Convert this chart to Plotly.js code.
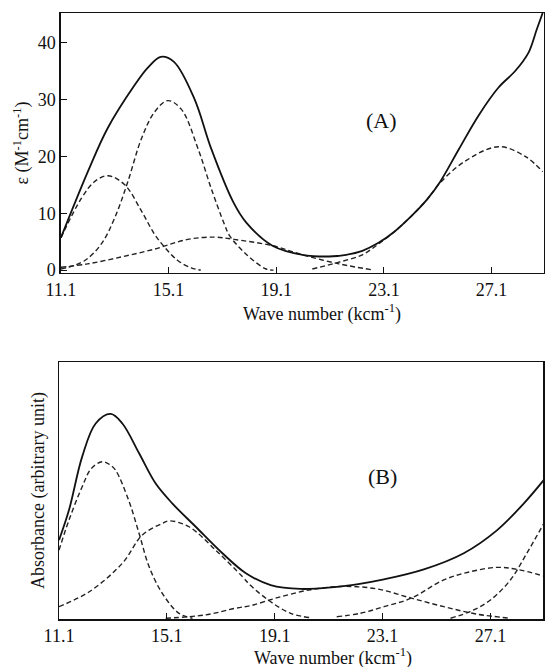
<!DOCTYPE html>
<html>
<head>
<meta charset="utf-8">
<script src="https://cdn.plot.ly/plotly-3.0.1.min.js"></script>
<style>html,body{margin:0;padding:0;background:#fff;}#chart{width:545px;height:667px;}</style>
</head>
<body>
<div id="chart"></div>
<script>
// ---------- Panel (A): molar absorptivity ----------
const xTickVals = [11.1, 15.1, 19.1, 23.1, 27.1];
const xTickText = ["11.1", "15.1", "19.1", "23.1", "27.1"];
const yTickValsA = [0, 10, 20, 30, 40];

const totalA_x = [11.1, 12.1, 12.83, 13.82, 14.33, 14.81, 15.3, 16.06, 16.68, 17.5, 17.98, 18.96, 20.07, 21.06, 21.7, 22.3, 22.9, 23.5, 24.1, 24.7, 25.2, 25.88, 26.62, 27.36, 27.98, 28.47, 28.78, 29.0];
const totalA_y = [5.7, 17.3, 24.9, 32.4, 35.6, 37.5, 36.6, 30.1, 21.4, 12.0, 8.4, 4.3, 2.7, 2.4, 2.7, 3.4, 4.8, 6.8, 9.4, 12.4, 15.6, 21.2, 27.2, 32.1, 35.0, 38.2, 42.3, 45.2];

const bandA1_x = [11.1, 11.87, 12.36, 12.85, 13.47, 14.09, 14.58, 14.96, 15.44, 15.94, 16.3];
const bandA1_y = [5.7, 12.7, 15.6, 16.6, 15.0, 10.4, 6.3, 4.0, 1.7, 0.4, 0.0];

const bandA2_x = [11.1, 11.37, 11.99, 12.6, 13.1, 13.59, 14.09, 14.58, 15.07, 15.57, 16.19, 16.68, 17.17, 17.36, 17.98, 18.72, 19.0];
const bandA2_y = [0.2, 0.5, 1.7, 4.6, 9.2, 15.6, 23.1, 27.8, 29.8, 28.3, 21.4, 14.4, 8.1, 6.1, 2.8, 0.2, 0.0];

const bandA3_x = [11.1, 12.09, 13.33, 14.58, 15.81, 16.8, 17.54, 18.96, 20.07, 21.43, 22.67];
const bandA3_y = [0.5, 1.1, 2.3, 3.7, 5.4, 5.8, 5.4, 4.3, 2.7, 1.1, 0.05];

const bandA4_x = [20.44, 21.43, 22.3, 22.9, 23.5, 24.1, 24.7, 25.2, 26.1, 27.36, 28.35, 29.0];
const bandA4_y = [0.2, 1.4, 2.7, 4.6, 6.8, 9.4, 12.4, 15.4, 19.1, 21.7, 20.0, 17.3];

// ---------- Panel (B): absorbance (arbitrary unit) ----------
const totalB_x = [11.1, 11.47, 11.96, 12.46, 13.02, 13.45, 14.07, 14.68, 15.3, 16.17, 17.16, 18.03, 18.95, 20.06, 21.3, 22.2, 23.15, 24.63, 26.11, 27.35, 28.34, 29.08];
const totalB_y = [0.307, 0.424, 0.632, 0.761, 0.798, 0.761, 0.645, 0.528, 0.45, 0.359, 0.256, 0.178, 0.132, 0.117, 0.124, 0.136, 0.154, 0.193, 0.256, 0.346, 0.45, 0.541];

const bandB1_x = [11.1, 11.47, 11.96, 12.3, 12.7, 12.95, 13.19, 13.68, 14.07, 14.44, 14.93, 15.55, 16.05];
const bandB1_y = [0.268, 0.385, 0.515, 0.586, 0.612, 0.603, 0.58, 0.463, 0.333, 0.204, 0.1, 0.022, 0.003];

const bandB2_x = [11.1, 12.22, 13.45, 14.19, 14.93, 15.18, 15.92, 16.91, 17.9, 18.21, 18.95, 19.69, 20.43];
const bandB2_y = [0.048, 0.106, 0.217, 0.327, 0.372, 0.382, 0.359, 0.268, 0.165, 0.13, 0.067, 0.022, 0.005];

const bandB3_x = [15.06, 16.54, 17.65, 18.21, 19.2, 20.43, 21.66, 22.89, 24.14, 25.37, 26.6, 27.84];
const bandB3_y = [0.003, 0.016, 0.042, 0.052, 0.083, 0.114, 0.127, 0.117, 0.082, 0.048, 0.019, 0.003];

const bandB4_x = [21.4, 22.27, 23.15, 24.14, 25.37, 26.35, 27.35, 28.09, 29.08];
const bandB4_y = [0.009, 0.022, 0.048, 0.08, 0.152, 0.184, 0.201, 0.193, 0.167];

const bandB5_x = [25.62, 26.35, 27.1, 27.84, 28.45, 29.08];
const bandB5_y = [0.003, 0.029, 0.074, 0.152, 0.256, 0.372];

const solidLine = {color: '#111', width: 1.8, shape: 'spline', smoothing: 1};
const dashLine = {color: '#222', width: 1.4, dash: '5px,3px', shape: 'spline', smoothing: 1};

function tr(x, y, line, xa, ya, name) {
  return {x: x, y: y, mode: 'lines', line: line, xaxis: xa, yaxis: ya, name: name, hoverinfo: 'skip', cliponaxis: true};
}

const data = [
  tr(bandA1_x, bandA1_y, dashLine, 'x', 'y', 'band 1'),
  tr(bandA2_x, bandA2_y, dashLine, 'x', 'y', 'band 2'),
  tr(bandA3_x, bandA3_y, dashLine, 'x', 'y', 'band 3'),
  tr(bandA4_x, bandA4_y, dashLine, 'x', 'y', 'band 4'),
  tr(totalA_x, totalA_y, solidLine, 'x', 'y', 'spectrum A'),
  tr(bandB1_x, bandB1_y, dashLine, 'x2', 'y2', 'band 1'),
  tr(bandB2_x, bandB2_y, dashLine, 'x2', 'y2', 'band 2'),
  tr(bandB3_x, bandB3_y, dashLine, 'x2', 'y2', 'band 3'),
  tr(bandB4_x, bandB4_y, dashLine, 'x2', 'y2', 'band 4'),
  tr(bandB5_x, bandB5_y, dashLine, 'x2', 'y2', 'band 5'),
  tr(totalB_x, totalB_y, solidLine, 'x2', 'y2', 'spectrum B')
];

const FONT = 'Liberation Serif, Times New Roman, serif';
const TXT = {family: FONT, size: 18, color: '#111'};

const xCommon = {
  range: [11.1, 29.05], tickmode: 'array', tickvals: xTickVals, ticktext: xTickText,
  ticks: 'inside', ticklen: 6, tickwidth: 1.2, tickcolor: '#111',
  showline: true, linecolor: '#111', linewidth: 1.5, mirror: true,
  showgrid: false, zeroline: false, automargin: false,
  tickfont: TXT
};

const layout = {
  width: 545, height: 667,
  margin: {l: 59, r: 1, t: 13, b: 48},
  paper_bgcolor: '#fff', plot_bgcolor: '#fff',
  showlegend: false,
  font: {family: FONT, color: '#111'},
  xaxis: Object.assign({}, xCommon, {domain: [0.004, 1], anchor: 'y'}),
  yaxis: {
    domain: [0.571, 1], anchor: 'x', range: [-0.5, 45.2],
    tickmode: 'array', tickvals: yTickValsA,
    ticks: 'inside', ticklen: 6, tickwidth: 1.2, tickcolor: '#111',
    showline: true, linecolor: '#111', linewidth: 1.5, mirror: true,
    showgrid: false, zeroline: false, automargin: false,
    tickfont: TXT,
    title: {text: 'ε (M<sup>-1</sup>cm<sup>-1</sup>)', font: TXT, standoff: 4}
  },
  xaxis2: Object.assign({}, xCommon, {domain: [0, 0.998], anchor: 'y2'}),
  yaxis2: {
    domain: [0, 0.424], anchor: 'x2', range: [0, 1],
    showticklabels: false, ticks: '',
    showline: true, linecolor: '#111', linewidth: 1.5, mirror: true,
    showgrid: false, zeroline: false, automargin: false,
    title: {text: 'Absorbance (arbitrary unit)', font: TXT, standoff: 8}
  },
  annotations: [
    {text: 'Wave number (kcm<sup>-1</sup>)', x: 0.542, y: 0.505, xref: 'paper', yref: 'paper', xanchor: 'center', yanchor: 'middle', showarrow: false, font: TXT},
    {text: 'Wave number (kcm<sup>-1</sup>)', x: 0.565, y: -0.063, xref: 'paper', yref: 'paper', xanchor: 'center', yanchor: 'middle', showarrow: false, font: TXT},
    {text: '(A)', x: 23.0, y: 26.3, xref: 'x', yref: 'y', showarrow: false, font: {family: FONT, size: 22, color: '#111'}},
    {text: '(B)', x: 23.1, y: 0.554, xref: 'x2', yref: 'y2', showarrow: false, font: {family: FONT, size: 22, color: '#111'}}
  ]
};

Plotly.newPlot('chart', data, layout, {staticPlot: true, displayModeBar: false});
</script>
</body>
</html>
